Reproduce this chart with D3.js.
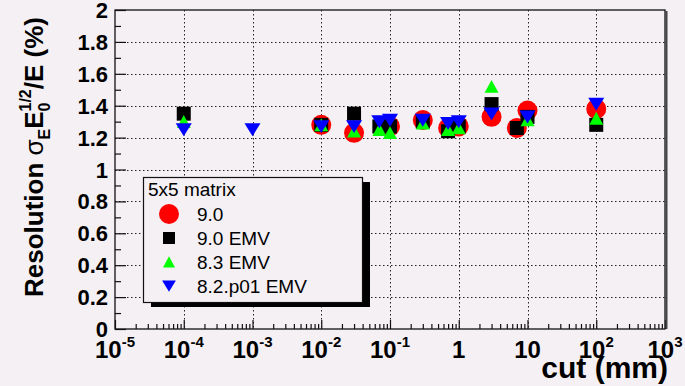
<!DOCTYPE html>
<html>
<head>
<meta charset="utf-8">
<script src="https://cdn.jsdelivr.net/npm/d3@7"></script>
<style>
  body { margin: 0; background: #f4f0f4; }
  svg { display: block; font-family: "Liberation Sans", Arial, sans-serif; }
</style>
</head>
<body>
<div id="vis"></div>
<script>
// data: cut (mm) and resolution (%)
var cut90 = [0.01, 0.03, 0.1, 0.3, 0.7, 1, 3, 7, 10, 100];
var res90 = [1.28, 1.23, 1.27, 1.31, 1.26, 1.27, 1.33, 1.26, 1.37, 1.38];

var cut90emv = [1e-4, 0.01, 0.03, 0.07, 0.1, 0.3, 0.7, 1, 3, 7, 10, 100];
var res90emv = [1.35, 1.28, 1.35, 1.27, 1.27, 1.30, 1.24, 1.27, 1.41, 1.26, 1.33, 1.28];

var cut83emv = [1e-4, 0.01, 0.03, 0.07, 0.1, 0.3, 0.7, 1, 3, 10, 100];
var res83emv = [1.30, 1.28, 1.24, 1.25, 1.23, 1.29, 1.25, 1.26, 1.52, 1.31, 1.32];

var cut82emv = [1e-4, 1e-3, 0.01, 0.03, 0.07, 0.1, 0.3, 0.7, 1, 3, 10, 100];
var res82emv = [1.25, 1.25, 1.27, 1.27, 1.30, 1.31, 1.31, 1.29, 1.30, 1.35, 1.33, 1.41];

var seriesNames = ["9.0", "9.0 EMV", "8.3 EMV", "8.2.p01 EMV"];
var legendTitle = "5x5 matrix";
var xTickExp = [-5, -4, -3, -2, -1, 0, 1, 2, 3];
var yTicks = [0, 0.2, 0.4, 0.6, 0.8, 1, 1.2, 1.4, 1.6, 1.8, 2];

var width = 685, height = 386;
var plotL = 115, plotR = 665, plotT = 10, plotB = 329;
var bg = "#f4f0f4";

var svg = d3.select("#vis").append("svg")
  .attr("width", width)
  .attr("height", height);

svg.append("rect").attr("width", width).attr("height", height).attr("fill", bg);

var x = d3.scaleLog().domain([1e-5, 1e3]).range([plotL, plotR]);
var y = d3.scaleLinear().domain([0, 2]).range([plotB, plotT]);

var majorX = xTickExp.map(function(e) { return Math.pow(10, e); });
var minorX = [];
xTickExp.slice(0, -1).forEach(function(e) {
  for (var k = 2; k <= 9; k++) minorX.push(k * Math.pow(10, e));
});
var minorY = d3.range(0.1, 2, 0.2);

// dotted grid
var grid = svg.append("g").attr("stroke", "#222").attr("stroke-width", 1)
  .attr("stroke-dasharray", "1.5,2.5");
grid.selectAll(".gx").data(majorX.slice(1, -1)).enter().append("line")
  .attr("x1", function(d) { return Math.round(x(d)) + 0.5; })
  .attr("x2", function(d) { return Math.round(x(d)) + 0.5; })
  .attr("y1", plotT).attr("y2", plotB);
grid.selectAll(".gy").data(yTicks.slice(1, -1)).enter().append("line")
  .attr("y1", function(d) { return Math.round(y(d)) + 0.5; })
  .attr("y2", function(d) { return Math.round(y(d)) + 0.5; })
  .attr("x1", plotL).attr("x2", plotR);

// axes (ticks pointing into the frame)
function styleAxis(g) {
  g.select(".domain").remove();
  g.selectAll("line").attr("stroke", "#111").attr("stroke-width", 1.2);
}
svg.append("g").attr("transform", "translate(0," + plotB + ")")
  .call(d3.axisTop(x).tickValues(majorX).tickSize(9).tickFormat(""))
  .call(styleAxis);
svg.append("g").attr("transform", "translate(0," + plotB + ")")
  .call(d3.axisTop(x).tickValues(minorX).tickSize(5).tickFormat(""))
  .call(styleAxis);
svg.append("g").attr("transform", "translate(" + plotL + ",0)")
  .call(d3.axisRight(y).tickValues(yTicks).tickSize(11).tickFormat(""))
  .call(styleAxis);
svg.append("g").attr("transform", "translate(" + plotL + ",0)")
  .call(d3.axisRight(y).tickValues(minorY).tickSize(6).tickFormat(""))
  .call(styleAxis);

// frame
svg.append("rect")
  .attr("x", plotL).attr("y", plotT)
  .attr("width", plotR - plotL).attr("height", plotB - plotT)
  .attr("fill", "none").attr("stroke", "#111").attr("stroke-width", 1.3);
svg.append("line")
  .attr("x1", plotR + 1.5).attr("x2", plotR + 1.5)
  .attr("y1", plotT + 1).attr("y2", plotB)
  .attr("stroke", "#444").attr("stroke-width", 2);

// y tick labels
svg.selectAll(".ylab").data(yTicks).enter().append("text")
  .attr("x", 108)
  .attr("y", function(d) { return y(d) + 8; })
  .attr("text-anchor", "end")
  .attr("font-size", 22).attr("font-weight", "bold")
  .text(function(d) { return d3.format("~g")(d); });

// x tick labels
var xl = svg.selectAll(".xlab").data(xTickExp).enter().append("text")
  .attr("x", function(d) { return x(Math.pow(10, d)); })
  .attr("y", 358)
  .attr("text-anchor", "middle")
  .attr("font-size", 24).attr("font-weight", "bold");
xl.each(function(d) {
  var t = d3.select(this);
  if (d === 0) { t.text("1"); return; }
  if (d === 1) { t.text("10"); return; }
  t.append("tspan").text("10");
  t.append("tspan").attr("dy", -11).attr("font-size", 15).text(d);
});

// axis titles
svg.append("text")
  .attr("x", 668).attr("y", 378)
  .attr("text-anchor", "end")
  .attr("font-size", 30).attr("font-weight", "bold")
  .text("cut (mm)");

var yt = svg.append("text")
  .attr("transform", "translate(43,17) rotate(-90)")
  .attr("text-anchor", "end")
  .attr("font-size", 26).attr("font-weight", "bold");
yt.append("tspan").text("Resolution ");
yt.append("tspan").attr("font-weight", "normal").text("σ");
yt.append("tspan").attr("font-size", 16).attr("dy", 7).text("E");
yt.append("tspan").attr("dy", -7).text("E");
yt.append("tspan").attr("font-size", 16).attr("dy", 7).text("0");
yt.append("tspan").attr("font-size", 16).attr("dx", -9).attr("dy", -19).text("1/2");
yt.append("tspan").attr("dy", 12).text("/E (%)");

// markers
var symCircle = function(s) { return "M0," + (-s) + "A" + s + "," + s + " 0 1,1 0," + s + "A" + s + "," + s + " 0 1,1 0," + (-s) + "Z"; };
var symSquare = function(s) { return "M" + (-s) + "," + (-s) + "H" + s + "V" + s + "H" + (-s) + "Z"; };
var symUp = function(s) { return "M0," + (-s * 0.95) + "L" + s + "," + (s * 0.9) + "L" + (-s) + "," + (s * 0.9) + "Z"; };
var symDown = function(s) { return "M0," + (s * 0.95) + "L" + (s * 1.15) + "," + (-s * 0.9) + "L" + (-s * 1.15) + "," + (-s * 0.9) + "Z"; };

var series = [
  { cut: cut90, res: res90, color: "#ff0000", shape: symCircle, size: 10 },
  { cut: cut90emv, res: res90emv, color: "#000000", shape: symSquare, size: 7 },
  { cut: cut83emv, res: res83emv, color: "#00ff00", shape: symUp, size: 7 },
  { cut: cut82emv, res: res82emv, color: "#0000ff", shape: symDown, size: 7 }
];

series.forEach(function(s) {
  svg.append("g").selectAll("path")
    .data(d3.zip(s.cut, s.res))
    .enter().append("path")
    .attr("transform", function(d) { return "translate(" + x(d[0]) + "," + y(d[1]) + ")"; })
    .attr("d", s.shape(s.size))
    .attr("fill", s.color);
});

// legend
var lg = svg.append("g");
lg.append("rect").attr("x", 151).attr("y", 182).attr("width", 219).attr("height", 125).attr("fill", "#000");
lg.append("rect").attr("x", 143.5).attr("y", 177.5).attr("width", 219).attr("height", 125)
  .attr("fill", bg).attr("stroke", "#111").attr("stroke-width", 1.2);
lg.append("text").attr("x", 148).attr("y", 196).attr("font-size", 19).text(legendTitle);
var legendSizes = [10, 6, 6, 6];
series.forEach(function(s, i) {
  var ly = 214 + i * 24;
  lg.append("path")
    .attr("transform", "translate(169," + ly + ")")
    .attr("d", s.shape(legendSizes[i]))
    .attr("fill", s.color);
  lg.append("text").attr("x", 197).attr("y", ly + 7).attr("font-size", 19).text(seriesNames[i]);
});
</script>
</body>
</html>
